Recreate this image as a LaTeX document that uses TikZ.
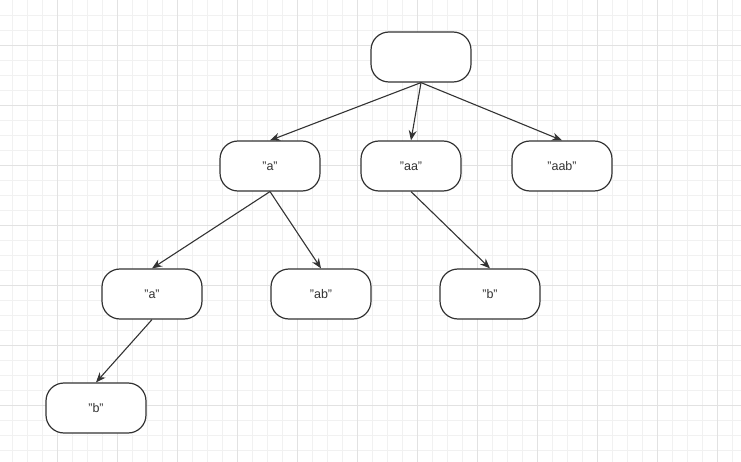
\documentclass[tikz,border=0pt]{standalone}
\usepackage{fontspec}
\setmainfont{Liberation Sans}
\usetikzlibrary{arrows.meta}
\usepackage{xcolor}
\definecolor{gridminor}{HTML}{F1F1F1}
\definecolor{gridmajor}{HTML}{E2E2E2}
\definecolor{edgecol}{HTML}{333333}

\begin{document}
\begin{tikzpicture}[x=1pt,y=-1pt,
  trie/.style={draw=edgecol,line width=1.2pt,fill=white,rounded corners=18pt,
    minimum width=100pt,minimum height=50pt,inner sep=0pt,
    font=\fontsize{12.5}{14}\selectfont,text=edgecol},
  link/.style={draw=edgecol,line width=1.1pt,-{Stealth[length=10pt,width=8pt]}}]
\useasboundingbox (0,0) rectangle (741,462);
% background grid
\foreach \x in {12,27,...,732} \draw[gridminor,line width=0.7pt] (\x,0)--(\x,462);
\foreach \y in {15,30,...,460} \draw[gridminor,line width=0.7pt] (0,\y)--(741,\y);
\foreach \x in {57,117,...,732} \draw[gridmajor,line width=0.7pt] (\x,0)--(\x,462);
\foreach \y in {45,105,...,460} \draw[gridmajor,line width=0.7pt] (0,\y)--(741,\y);

\node[trie] (root) at (421,57) {};
\node[trie] (a) at (270,166) {"a"};
\node[trie] (aa) at (411,166) {"aa"};
\node[trie] (aab) at (562,166) {"aab"};
\node[trie] (a-a) at (152,294) {"a"};
\node[trie] (a-ab) at (321,294) {"ab"};
\node[trie] (aa-b) at (490,294) {"b"};
\node[trie] (a-a-b) at (96,408) {"b"};

\draw[link] (root.south)--(a.north);
\draw[link] (root.south)--(aa.north);
\draw[link] (root.south)--(aab.north);
\draw[link] (a.south)--(a-a.north);
\draw[link] (a.south)--(a-ab.north);
\draw[link] (aa.south)--(aa-b.north);
\draw[link] (a-a.south)--(a-a-b.north);
\end{tikzpicture}
\end{document}
